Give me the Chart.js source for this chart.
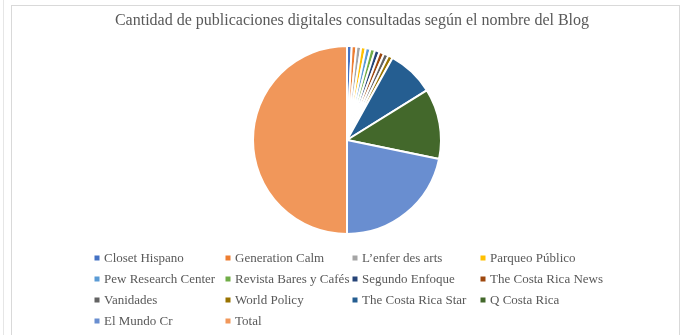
<!DOCTYPE html>
<html>
<head>
<meta charset="utf-8">
<script src="https://cdn.jsdelivr.net/npm/chart.js@4/dist/chart.umd.min.js"></script>
<style>
  html, body { margin: 0; padding: 0; background: #fff; }
  #wrap { position: relative; width: 683px; height: 335px; overflow: hidden; }
  #frame { position: absolute; left: 11px; top: 5px; width: 669px; height: 340px;
           border: 1px solid #d9d9d9; box-sizing: border-box; }
  #edge { position: absolute; left: 3px; top: 0; width: 1px; height: 335px; background: #e6e6e6; }
  canvas { position: absolute; left: 0; top: 0; }
</style>
</head>
<body>
<div id="wrap">
  <div id="edge"></div>
  <div id="frame"></div>
  <canvas id="c" width="683" height="335"></canvas>
</div>
<script>
const chartTitle = 'Cantidad de publicaciones digitales consultadas según el nombre del Blog';

const blogs = [
  'Closet Hispano', 'Generation Calm', 'L\u2019enfer des arts', 'Parqueo Público',
  'Pew Research Center', 'Revista Bares y Cafés', 'Segundo Enfoque', 'The Costa Rica News',
  'Vanidades', 'World Policy', 'The Costa Rica Star', 'Q Costa Rica',
  'El Mundo Cr', 'Total'
];

const publicaciones = [1, 1, 1, 1, 1, 1, 1, 1, 1, 1, 10, 15, 27, 62];

const sliceColors = [
  '#4472C4', '#ED7D31', '#A5A5A5', '#FFC000',
  '#5B9BD5', '#70AD47', '#264478', '#9E480E',
  '#636363', '#997300', '#255E91', '#43682B',
  '#698ED0', '#F1975A'
];

const textColor = '#595959';
const serif = '"Liberation Serif", "Times New Roman", serif';

// Title plus a four-column legend grid drawn from the chart's own labels and colours
const gridLegend = {
  id: 'gridLegend',
  afterDraw(chart) {
    const ctx = chart.ctx;
    ctx.save();
    ctx.fillStyle = textColor;
    ctx.font = '16px ' + serif;
    ctx.textAlign = 'center';
    ctx.textBaseline = 'middle';
    ctx.fillText(chartTitle, 352, 21);

    const colX = [97, 228, 355, 483];
    const rowY = [258, 279, 300, 321];
    const labels = chart.data.labels;
    const colors = chart.data.datasets[0].backgroundColor;
    ctx.font = '13px ' + serif;
    ctx.textAlign = 'left';
    labels.forEach((lab, i) => {
      const x = colX[i % 4];
      const y = rowY[Math.floor(i / 4)];
      ctx.fillStyle = colors[i];
      ctx.fillRect(x - 2.5, y - 2.5, 5, 5);
      ctx.fillStyle = textColor;
      ctx.fillText(lab, x + 7, y + 1);
    });
    ctx.restore();
  }
};

new Chart(document.getElementById('c'), {
  type: 'pie',
  data: {
    labels: blogs,
    datasets: [{
      data: publicaciones,
      backgroundColor: sliceColors,
      borderColor: '#ffffff',
      borderWidth: 2
    }]
  },
  options: {
    responsive: false,
    animation: false,
    layout: { padding: { top: 45, bottom: 100, left: 111, right: 100 } },
    plugins: {
      legend: { display: false },
      title: { display: false },
      tooltip: { enabled: false }
    }
  },
  plugins: [gridLegend]
});
</script>
</body>
</html>
